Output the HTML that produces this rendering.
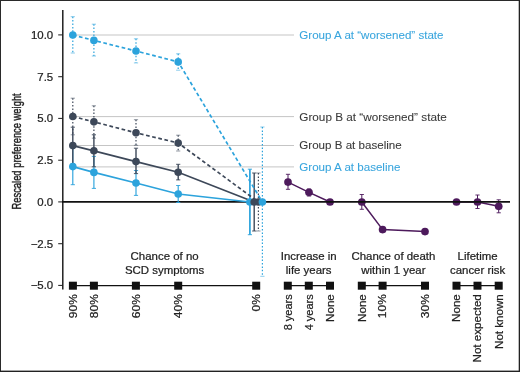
<!DOCTYPE html>
<html><head><meta charset="utf-8"><title>Chart</title>
<style>html,body{margin:0;padding:0;background:#fff;width:520px;height:372px;overflow:hidden}</style></head>
<body>
<svg width="520" height="372" viewBox="0 0 520 372" style="will-change:transform;display:block;position:absolute;left:0;top:0" font-family="Liberation Sans, sans-serif">
<rect x="0" y="0" width="520" height="372" fill="#fff"/>
<line x1="73" y1="35" x2="294" y2="35" stroke="#c2c2c2" stroke-width="0.95"/>
<line x1="73" y1="116.6" x2="294" y2="116.6" stroke="#c2c2c2" stroke-width="0.95"/>
<line x1="73" y1="145.5" x2="294" y2="145.5" stroke="#c2c2c2" stroke-width="0.95"/>
<line x1="73" y1="166.9" x2="294" y2="166.9" stroke="#c2c2c2" stroke-width="0.95"/>
<line x1="62.8" y1="10" x2="62.8" y2="289.6" stroke="#111" stroke-width="1.4"/>
<line x1="58.2" y1="34.9" x2="62.6" y2="34.9" stroke="#222" stroke-width="1.05"/>
<line x1="58.2" y1="76.7" x2="62.6" y2="76.7" stroke="#222" stroke-width="1.05"/>
<line x1="58.2" y1="118.4" x2="62.6" y2="118.4" stroke="#222" stroke-width="1.05"/>
<line x1="58.2" y1="160.2" x2="62.6" y2="160.2" stroke="#222" stroke-width="1.05"/>
<line x1="58.2" y1="201.9" x2="62.6" y2="201.9" stroke="#222" stroke-width="1.05"/>
<line x1="58.2" y1="243.7" x2="62.6" y2="243.7" stroke="#222" stroke-width="1.05"/>
<line x1="58.2" y1="285.4" x2="62.6" y2="285.4" stroke="#222" stroke-width="1.05"/>
<text transform="translate(53.2,38.8) scale(1.09,1)" font-size="10.5" text-anchor="end" fill="#222" stroke="#222" stroke-width="0.22">10.0</text>
<text transform="translate(53.2,80.5) scale(1.09,1)" font-size="10.5" text-anchor="end" fill="#222" stroke="#222" stroke-width="0.22">7.5</text>
<text transform="translate(53.2,122.3) scale(1.09,1)" font-size="10.5" text-anchor="end" fill="#222" stroke="#222" stroke-width="0.22">5.0</text>
<text transform="translate(53.2,164.1) scale(1.09,1)" font-size="10.5" text-anchor="end" fill="#222" stroke="#222" stroke-width="0.22">2.5</text>
<text transform="translate(53.2,205.8) scale(1.09,1)" font-size="10.5" text-anchor="end" fill="#222" stroke="#222" stroke-width="0.22">0.0</text>
<text transform="translate(53.2,247.6) scale(1.09,1)" font-size="10.5" text-anchor="end" fill="#222" stroke="#222" stroke-width="0.22">−2.5</text>
<text transform="translate(53.2,289.3) scale(1.09,1)" font-size="10.5" text-anchor="end" fill="#222" stroke="#222" stroke-width="0.22">−5.0</text>
<text transform="translate(21.1,209.5) rotate(-90)" font-size="12.2" textLength="116.2" lengthAdjust="spacingAndGlyphs" fill="#1a1a1a" stroke="#1a1a1a" stroke-width="0.4">Rescaled preference weight</text>
<line x1="288" y1="174.3" x2="288" y2="189.3" stroke="#4d1a5c" stroke-width="1.0"/>
<line x1="285.9" y1="174.3" x2="290.1" y2="174.3" stroke="#4d1a5c" stroke-width="0.9" stroke-opacity="1"/>
<line x1="285.9" y1="189.3" x2="290.1" y2="189.3" stroke="#4d1a5c" stroke-width="0.9" stroke-opacity="1"/>
<line x1="309" y1="189" x2="309" y2="196" stroke="#4d1a5c" stroke-width="1.0"/>
<line x1="306.9" y1="189" x2="311.1" y2="189" stroke="#4d1a5c" stroke-width="0.9" stroke-opacity="1"/>
<line x1="306.9" y1="196" x2="311.1" y2="196" stroke="#4d1a5c" stroke-width="0.9" stroke-opacity="1"/>
<line x1="330" y1="200.5" x2="330" y2="203.5" stroke="#4d1a5c" stroke-width="1.0"/>
<line x1="327.9" y1="200.5" x2="332.1" y2="200.5" stroke="#4d1a5c" stroke-width="0.9" stroke-opacity="1"/>
<line x1="327.9" y1="203.5" x2="332.1" y2="203.5" stroke="#4d1a5c" stroke-width="0.9" stroke-opacity="1"/>
<polyline points="288,182.1 309,192.3 330,202" fill="none" stroke="#4d1a5c" stroke-width="1.5"/>
<circle cx="288" cy="182.1" r="3.85" fill="#4d1a5c"/>
<circle cx="309" cy="192.3" r="3.85" fill="#4d1a5c"/>
<circle cx="330" cy="202" r="3.85" fill="#4d1a5c"/>
<line x1="361.8" y1="194.5" x2="361.8" y2="209.3" stroke="#4d1a5c" stroke-width="1.0"/>
<line x1="359.7" y1="194.5" x2="363.90000000000003" y2="194.5" stroke="#4d1a5c" stroke-width="0.9" stroke-opacity="1"/>
<line x1="359.7" y1="209.3" x2="363.90000000000003" y2="209.3" stroke="#4d1a5c" stroke-width="0.9" stroke-opacity="1"/>
<line x1="382.6" y1="227.5" x2="382.6" y2="232" stroke="#4d1a5c" stroke-width="1.0"/>
<line x1="380.5" y1="227.5" x2="384.70000000000005" y2="227.5" stroke="#4d1a5c" stroke-width="0.9" stroke-opacity="1"/>
<line x1="380.5" y1="232" x2="384.70000000000005" y2="232" stroke="#4d1a5c" stroke-width="0.9" stroke-opacity="1"/>
<line x1="425" y1="229.5" x2="425" y2="233.5" stroke="#4d1a5c" stroke-width="1.0"/>
<line x1="422.9" y1="229.5" x2="427.1" y2="229.5" stroke="#4d1a5c" stroke-width="0.9" stroke-opacity="1"/>
<line x1="422.9" y1="233.5" x2="427.1" y2="233.5" stroke="#4d1a5c" stroke-width="0.9" stroke-opacity="1"/>
<polyline points="361.8,202 382.6,229.6 425,231.6" fill="none" stroke="#4d1a5c" stroke-width="1.5"/>
<circle cx="361.8" cy="202" r="3.85" fill="#4d1a5c"/>
<circle cx="382.6" cy="229.6" r="3.85" fill="#4d1a5c"/>
<circle cx="425" cy="231.6" r="3.85" fill="#4d1a5c"/>
<line x1="456.5" y1="200" x2="456.5" y2="204" stroke="#4d1a5c" stroke-width="1.0"/>
<line x1="454.4" y1="200" x2="458.6" y2="200" stroke="#4d1a5c" stroke-width="0.9" stroke-opacity="1"/>
<line x1="454.4" y1="204" x2="458.6" y2="204" stroke="#4d1a5c" stroke-width="0.9" stroke-opacity="1"/>
<line x1="477.5" y1="195" x2="477.5" y2="208.5" stroke="#4d1a5c" stroke-width="1.0"/>
<line x1="475.4" y1="195" x2="479.6" y2="195" stroke="#4d1a5c" stroke-width="0.9" stroke-opacity="1"/>
<line x1="475.4" y1="208.5" x2="479.6" y2="208.5" stroke="#4d1a5c" stroke-width="0.9" stroke-opacity="1"/>
<line x1="498.7" y1="199.8" x2="498.7" y2="212.8" stroke="#4d1a5c" stroke-width="1.0"/>
<line x1="496.59999999999997" y1="199.8" x2="500.8" y2="199.8" stroke="#4d1a5c" stroke-width="0.9" stroke-opacity="1"/>
<line x1="496.59999999999997" y1="212.8" x2="500.8" y2="212.8" stroke="#4d1a5c" stroke-width="0.9" stroke-opacity="1"/>
<polyline points="456.5,202 477.5,202 498.7,206.3" fill="none" stroke="#4d1a5c" stroke-width="1.5"/>
<circle cx="456.5" cy="202" r="3.85" fill="#4d1a5c"/>
<circle cx="477.5" cy="202" r="3.85" fill="#4d1a5c"/>
<circle cx="498.7" cy="206.3" r="3.85" fill="#4d1a5c"/>
<line x1="62" y1="201.9" x2="510" y2="201.9" stroke="#111" stroke-width="1.9"/>
<line x1="72.8" y1="148.5" x2="72.8" y2="184.7" stroke="#2ca3dc" stroke-width="1.15"/>
<line x1="70.7" y1="148.5" x2="74.89999999999999" y2="148.5" stroke="#2ca3dc" stroke-width="0.9" stroke-opacity="1"/>
<line x1="70.7" y1="184.7" x2="74.89999999999999" y2="184.7" stroke="#2ca3dc" stroke-width="0.9" stroke-opacity="1"/>
<line x1="93.9" y1="156.4" x2="93.9" y2="188.4" stroke="#2ca3dc" stroke-width="1.15"/>
<line x1="91.80000000000001" y1="156.4" x2="96.0" y2="156.4" stroke="#2ca3dc" stroke-width="0.9" stroke-opacity="1"/>
<line x1="91.80000000000001" y1="188.4" x2="96.0" y2="188.4" stroke="#2ca3dc" stroke-width="0.9" stroke-opacity="1"/>
<line x1="136.0" y1="170.5" x2="136.0" y2="195.4" stroke="#2ca3dc" stroke-width="1.15"/>
<line x1="133.9" y1="170.5" x2="138.1" y2="170.5" stroke="#2ca3dc" stroke-width="0.9" stroke-opacity="1"/>
<line x1="133.9" y1="195.4" x2="138.1" y2="195.4" stroke="#2ca3dc" stroke-width="0.9" stroke-opacity="1"/>
<line x1="178.2" y1="185.5" x2="178.2" y2="202.5" stroke="#2ca3dc" stroke-width="1.15"/>
<line x1="176.1" y1="185.5" x2="180.29999999999998" y2="185.5" stroke="#2ca3dc" stroke-width="0.9" stroke-opacity="1"/>
<line x1="176.1" y1="202.5" x2="180.29999999999998" y2="202.5" stroke="#2ca3dc" stroke-width="0.9" stroke-opacity="1"/>
<line x1="249.9" y1="169.2" x2="249.9" y2="234.7" stroke="#2ca3dc" stroke-width="1.7"/>
<line x1="247.8" y1="169.2" x2="252.0" y2="169.2" stroke="#2ca3dc" stroke-width="0.9" stroke-opacity="1"/>
<line x1="247.8" y1="234.7" x2="252.0" y2="234.7" stroke="#2ca3dc" stroke-width="0.9" stroke-opacity="1"/>
<line x1="72.8" y1="127.2" x2="72.8" y2="164" stroke="#3d4859" stroke-width="1.4"/>
<line x1="70.7" y1="127.2" x2="74.89999999999999" y2="127.2" stroke="#3d4859" stroke-width="0.9" stroke-opacity="1"/>
<line x1="70.7" y1="164" x2="74.89999999999999" y2="164" stroke="#3d4859" stroke-width="0.9" stroke-opacity="1"/>
<line x1="93.9" y1="134.8" x2="93.9" y2="166.8" stroke="#3d4859" stroke-width="1.4"/>
<line x1="91.80000000000001" y1="134.8" x2="96.0" y2="134.8" stroke="#3d4859" stroke-width="0.9" stroke-opacity="1"/>
<line x1="91.80000000000001" y1="166.8" x2="96.0" y2="166.8" stroke="#3d4859" stroke-width="0.9" stroke-opacity="1"/>
<line x1="136.0" y1="148.2" x2="136.0" y2="173.6" stroke="#3d4859" stroke-width="1.4"/>
<line x1="133.9" y1="148.2" x2="138.1" y2="148.2" stroke="#3d4859" stroke-width="0.9" stroke-opacity="1"/>
<line x1="133.9" y1="173.6" x2="138.1" y2="173.6" stroke="#3d4859" stroke-width="0.9" stroke-opacity="1"/>
<line x1="178.2" y1="164.3" x2="178.2" y2="179.9" stroke="#3d4859" stroke-width="1.4"/>
<line x1="176.1" y1="164.3" x2="180.29999999999998" y2="164.3" stroke="#3d4859" stroke-width="0.9" stroke-opacity="1"/>
<line x1="176.1" y1="179.9" x2="180.29999999999998" y2="179.9" stroke="#3d4859" stroke-width="0.9" stroke-opacity="1"/>
<line x1="254.2" y1="173" x2="254.2" y2="231" stroke="#3d4859" stroke-width="1.4"/>
<line x1="252.1" y1="173" x2="256.3" y2="173" stroke="#3d4859" stroke-width="0.9" stroke-opacity="1"/>
<line x1="252.1" y1="231" x2="256.3" y2="231" stroke="#3d4859" stroke-width="0.9" stroke-opacity="1"/>
<line x1="72.8" y1="98.2" x2="72.8" y2="134.8" stroke="#3d4859" stroke-width="1.2" stroke-dasharray="1.5 1.9"/>
<line x1="70.7" y1="98.2" x2="74.89999999999999" y2="98.2" stroke="#3d4859" stroke-width="0.8" stroke-opacity="0.7"/>
<line x1="70.7" y1="134.8" x2="74.89999999999999" y2="134.8" stroke="#3d4859" stroke-width="0.8" stroke-opacity="0.7"/>
<line x1="93.9" y1="105.8" x2="93.9" y2="138.2" stroke="#3d4859" stroke-width="1.2" stroke-dasharray="1.5 1.9"/>
<line x1="91.80000000000001" y1="105.8" x2="96.0" y2="105.8" stroke="#3d4859" stroke-width="0.8" stroke-opacity="0.7"/>
<line x1="91.80000000000001" y1="138.2" x2="96.0" y2="138.2" stroke="#3d4859" stroke-width="0.8" stroke-opacity="0.7"/>
<line x1="136.0" y1="119.7" x2="136.0" y2="145.3" stroke="#3d4859" stroke-width="1.2" stroke-dasharray="1.5 1.9"/>
<line x1="133.9" y1="119.7" x2="138.1" y2="119.7" stroke="#3d4859" stroke-width="0.8" stroke-opacity="0.7"/>
<line x1="133.9" y1="145.3" x2="138.1" y2="145.3" stroke="#3d4859" stroke-width="0.8" stroke-opacity="0.7"/>
<line x1="178.2" y1="135.2" x2="178.2" y2="151" stroke="#3d4859" stroke-width="1.2" stroke-dasharray="1.5 1.9"/>
<line x1="176.1" y1="135.2" x2="180.29999999999998" y2="135.2" stroke="#3d4859" stroke-width="0.8" stroke-opacity="0.7"/>
<line x1="176.1" y1="151" x2="180.29999999999998" y2="151" stroke="#3d4859" stroke-width="0.8" stroke-opacity="0.7"/>
<line x1="258.4" y1="173" x2="258.4" y2="231" stroke="#3d4859" stroke-width="1.2" stroke-dasharray="1.5 1.9"/>
<line x1="256.29999999999995" y1="173" x2="260.5" y2="173" stroke="#3d4859" stroke-width="0.8" stroke-opacity="0.7"/>
<line x1="256.29999999999995" y1="231" x2="260.5" y2="231" stroke="#3d4859" stroke-width="0.8" stroke-opacity="0.7"/>
<line x1="72.8" y1="16.7" x2="72.8" y2="53" stroke="#2ca3dc" stroke-width="1.2" stroke-dasharray="1.5 1.9"/>
<line x1="70.7" y1="16.7" x2="74.89999999999999" y2="16.7" stroke="#2ca3dc" stroke-width="0.8" stroke-opacity="0.7"/>
<line x1="70.7" y1="53" x2="74.89999999999999" y2="53" stroke="#2ca3dc" stroke-width="0.8" stroke-opacity="0.7"/>
<line x1="93.9" y1="24.2" x2="93.9" y2="56" stroke="#2ca3dc" stroke-width="1.2" stroke-dasharray="1.5 1.9"/>
<line x1="91.80000000000001" y1="24.2" x2="96.0" y2="24.2" stroke="#2ca3dc" stroke-width="0.8" stroke-opacity="0.7"/>
<line x1="91.80000000000001" y1="56" x2="96.0" y2="56" stroke="#2ca3dc" stroke-width="0.8" stroke-opacity="0.7"/>
<line x1="136.0" y1="38.8" x2="136.0" y2="62.9" stroke="#2ca3dc" stroke-width="1.2" stroke-dasharray="1.5 1.9"/>
<line x1="133.9" y1="38.8" x2="138.1" y2="38.8" stroke="#2ca3dc" stroke-width="0.8" stroke-opacity="0.7"/>
<line x1="133.9" y1="62.9" x2="138.1" y2="62.9" stroke="#2ca3dc" stroke-width="0.8" stroke-opacity="0.7"/>
<line x1="178.2" y1="53.8" x2="178.2" y2="70.2" stroke="#2ca3dc" stroke-width="1.2" stroke-dasharray="1.5 1.9"/>
<line x1="176.1" y1="53.8" x2="180.29999999999998" y2="53.8" stroke="#2ca3dc" stroke-width="0.8" stroke-opacity="0.7"/>
<line x1="176.1" y1="70.2" x2="180.29999999999998" y2="70.2" stroke="#2ca3dc" stroke-width="0.8" stroke-opacity="0.7"/>
<line x1="262.4" y1="127" x2="262.4" y2="276.3" stroke="#2ca3dc" stroke-width="1.2" stroke-dasharray="1.5 1.9"/>
<line x1="260.29999999999995" y1="127" x2="264.5" y2="127" stroke="#2ca3dc" stroke-width="0.8" stroke-opacity="0.7"/>
<line x1="260.29999999999995" y1="276.3" x2="264.5" y2="276.3" stroke="#2ca3dc" stroke-width="0.8" stroke-opacity="0.7"/>
<polyline points="72.8,166.6 93.9,172.4 136.0,183.0 178.2,194 249.9,202.0" fill="none" stroke="#2ca3dc" stroke-width="1.7"/>
<polyline points="72.8,145.6 93.9,150.8 136.0,161.6 178.2,172.3 254.2,202.0" fill="none" stroke="#3d4859" stroke-width="1.7"/>
<polyline points="72.8,116.5 93.9,121.85 136.0,132.8 178.2,143 258.4,202.0" fill="none" stroke="#3d4859" stroke-width="1.7" stroke-dasharray="3.7 2.6"/>
<polyline points="72.8,35 93.9,40.4 136.0,51.0 178.2,61.9 262.4,202.0" fill="none" stroke="#2ca3dc" stroke-width="1.7" stroke-dasharray="3.7 2.6"/>
<circle cx="72.8" cy="166.6" r="3.8" fill="#2ca3dc"/>
<circle cx="93.9" cy="172.4" r="3.8" fill="#2ca3dc"/>
<circle cx="136.0" cy="183.0" r="3.8" fill="#2ca3dc"/>
<circle cx="178.2" cy="194" r="3.8" fill="#2ca3dc"/>
<circle cx="249.9" cy="202.0" r="3.8" fill="#2ca3dc"/>
<circle cx="72.8" cy="145.6" r="3.8" fill="#3d4859"/>
<circle cx="93.9" cy="150.8" r="3.8" fill="#3d4859"/>
<circle cx="136.0" cy="161.6" r="3.8" fill="#3d4859"/>
<circle cx="178.2" cy="172.3" r="3.8" fill="#3d4859"/>
<circle cx="254.2" cy="202.0" r="3.8" fill="#3d4859"/>
<circle cx="72.8" cy="116.5" r="3.8" fill="#3d4859"/>
<circle cx="93.9" cy="121.85" r="3.8" fill="#3d4859"/>
<circle cx="136.0" cy="132.8" r="3.8" fill="#3d4859"/>
<circle cx="178.2" cy="143" r="3.8" fill="#3d4859"/>
<circle cx="258.4" cy="202.0" r="3.8" fill="#3d4859"/>
<circle cx="72.8" cy="35" r="3.8" fill="#2ca3dc"/>
<circle cx="93.9" cy="40.4" r="3.8" fill="#2ca3dc"/>
<circle cx="136.0" cy="51.0" r="3.8" fill="#2ca3dc"/>
<circle cx="178.2" cy="61.9" r="3.8" fill="#2ca3dc"/>
<circle cx="262.4" cy="202.0" r="3.8" fill="#2ca3dc"/>
<line x1="72.9" y1="285.7" x2="256.2" y2="285.7" stroke="#111" stroke-width="1.2"/>
<line x1="288" y1="285.7" x2="330" y2="285.7" stroke="#111" stroke-width="1.2"/>
<line x1="361.8" y1="285.7" x2="425" y2="285.7" stroke="#111" stroke-width="1.2"/>
<line x1="456.5" y1="285.7" x2="498.7" y2="285.7" stroke="#111" stroke-width="1.2"/>
<rect x="68.90" y="281.70" width="8" height="8" fill="#111"/>
<text transform="translate(76.7,294.2) rotate(-90) scale(1.14,1)" font-size="10.5" text-anchor="end" fill="#222" stroke="#222" stroke-width="0.22">90%</text>
<rect x="89.90" y="281.70" width="8" height="8" fill="#111"/>
<text transform="translate(97.7,294.2) rotate(-90) scale(1.14,1)" font-size="10.5" text-anchor="end" fill="#222" stroke="#222" stroke-width="0.22">80%</text>
<rect x="131.90" y="281.70" width="8" height="8" fill="#111"/>
<text transform="translate(139.7,294.2) rotate(-90) scale(1.14,1)" font-size="10.5" text-anchor="end" fill="#222" stroke="#222" stroke-width="0.22">60%</text>
<rect x="174.20" y="281.70" width="8" height="8" fill="#111"/>
<text transform="translate(182.0,294.2) rotate(-90) scale(1.14,1)" font-size="10.5" text-anchor="end" fill="#222" stroke="#222" stroke-width="0.22">40%</text>
<rect x="252.20" y="281.70" width="8" height="8" fill="#111"/>
<text transform="translate(260.0,294.2) rotate(-90) scale(1.14,1)" font-size="10.5" text-anchor="end" fill="#222" stroke="#222" stroke-width="0.22">0%</text>
<rect x="283.80" y="281.70" width="8" height="8" fill="#111"/>
<text transform="translate(291.6,294.2) rotate(-90) scale(1.05,1)" font-size="10.5" text-anchor="end" fill="#222" stroke="#222" stroke-width="0.22">8 years</text>
<rect x="304.80" y="281.70" width="8" height="8" fill="#111"/>
<text transform="translate(312.6,294.2) rotate(-90) scale(1.05,1)" font-size="10.5" text-anchor="end" fill="#222" stroke="#222" stroke-width="0.22">4 years</text>
<rect x="326.00" y="281.70" width="8" height="8" fill="#111"/>
<text transform="translate(333.8,294.2) rotate(-90) scale(1.105,1)" font-size="10.5" text-anchor="end" fill="#222" stroke="#222" stroke-width="0.22">None</text>
<rect x="357.80" y="281.70" width="8" height="8" fill="#111"/>
<text transform="translate(365.6,294.2) rotate(-90) scale(1.105,1)" font-size="10.5" text-anchor="end" fill="#222" stroke="#222" stroke-width="0.22">None</text>
<rect x="378.60" y="281.70" width="8" height="8" fill="#111"/>
<text transform="translate(386.4,294.2) rotate(-90) scale(1.14,1)" font-size="10.5" text-anchor="end" fill="#222" stroke="#222" stroke-width="0.22">10%</text>
<rect x="421.00" y="281.70" width="8" height="8" fill="#111"/>
<text transform="translate(428.8,294.2) rotate(-90) scale(1.14,1)" font-size="10.5" text-anchor="end" fill="#222" stroke="#222" stroke-width="0.22">30%</text>
<rect x="452.50" y="281.70" width="8" height="8" fill="#111"/>
<text transform="translate(460.3,294.2) rotate(-90) scale(1.105,1)" font-size="10.5" text-anchor="end" fill="#222" stroke="#222" stroke-width="0.22">None</text>
<rect x="473.50" y="281.70" width="8" height="8" fill="#111"/>
<text transform="translate(481.3,294.2) rotate(-90) scale(1.105,1)" font-size="10.5" text-anchor="end" fill="#222" stroke="#222" stroke-width="0.22">Not expected</text>
<rect x="494.70" y="281.70" width="8" height="8" fill="#111"/>
<text transform="translate(502.5,294.2) rotate(-90) scale(1.105,1)" font-size="10.5" text-anchor="end" fill="#222" stroke="#222" stroke-width="0.22">Not known</text>
<text transform="translate(164.6,260.0) scale(1.09,1)" font-size="10.5" text-anchor="middle" fill="#222" stroke="#222" stroke-width="0.22">Chance of no</text>
<text transform="translate(164.6,274.1) scale(1.09,1)" font-size="10.5" text-anchor="middle" fill="#222" stroke="#222" stroke-width="0.22">SCD symptoms</text>
<text transform="translate(308.7,260.0) scale(1.09,1)" font-size="10.5" text-anchor="middle" fill="#222" stroke="#222" stroke-width="0.22">Increase in</text>
<text transform="translate(308.7,274.1) scale(1.09,1)" font-size="10.5" text-anchor="middle" fill="#222" stroke="#222" stroke-width="0.22">life years</text>
<text transform="translate(393.4,260.0) scale(1.09,1)" font-size="10.5" text-anchor="middle" fill="#222" stroke="#222" stroke-width="0.22">Chance of death</text>
<text transform="translate(393.4,274.1) scale(1.09,1)" font-size="10.5" text-anchor="middle" fill="#222" stroke="#222" stroke-width="0.22">within 1 year</text>
<text transform="translate(477.6,260.0) scale(1.09,1)" font-size="10.5" text-anchor="middle" fill="#222" stroke="#222" stroke-width="0.22">Lifetime</text>
<text transform="translate(477.6,274.1) scale(1.09,1)" font-size="10.5" text-anchor="middle" fill="#222" stroke="#222" stroke-width="0.22">cancer risk</text>
<text transform="translate(299.3,38.9) scale(1.105,1)" font-size="10.5" text-anchor="start" fill="#3aa6de" stroke="#3aa6de" stroke-width="0.08">Group A at “worsened” state</text>
<text transform="translate(299.3,120.5) scale(1.12,1)" font-size="10.5" text-anchor="start" fill="#3a3a3a" stroke="#3a3a3a" stroke-width="0.08">Group B at “worsened” state</text>
<text transform="translate(299.3,149.4) scale(1.105,1)" font-size="10.5" text-anchor="start" fill="#3a3a3a" stroke="#3a3a3a" stroke-width="0.08">Group B at baseline</text>
<text transform="translate(299.3,170.8) scale(1.105,1)" font-size="10.5" text-anchor="start" fill="#3aa6de" stroke="#3aa6de" stroke-width="0.08">Group A at baseline</text>
<rect x="0" y="0" width="520" height="1" fill="#2a2a2a"/>
<rect x="0" y="0" width="1" height="372" fill="#2a2a2a"/>
<rect x="518.7" y="0" width="1.3" height="372" fill="#222"/>
<rect x="0" y="370.6" width="520" height="1.4" fill="#222"/>
</svg>
</body></html>
